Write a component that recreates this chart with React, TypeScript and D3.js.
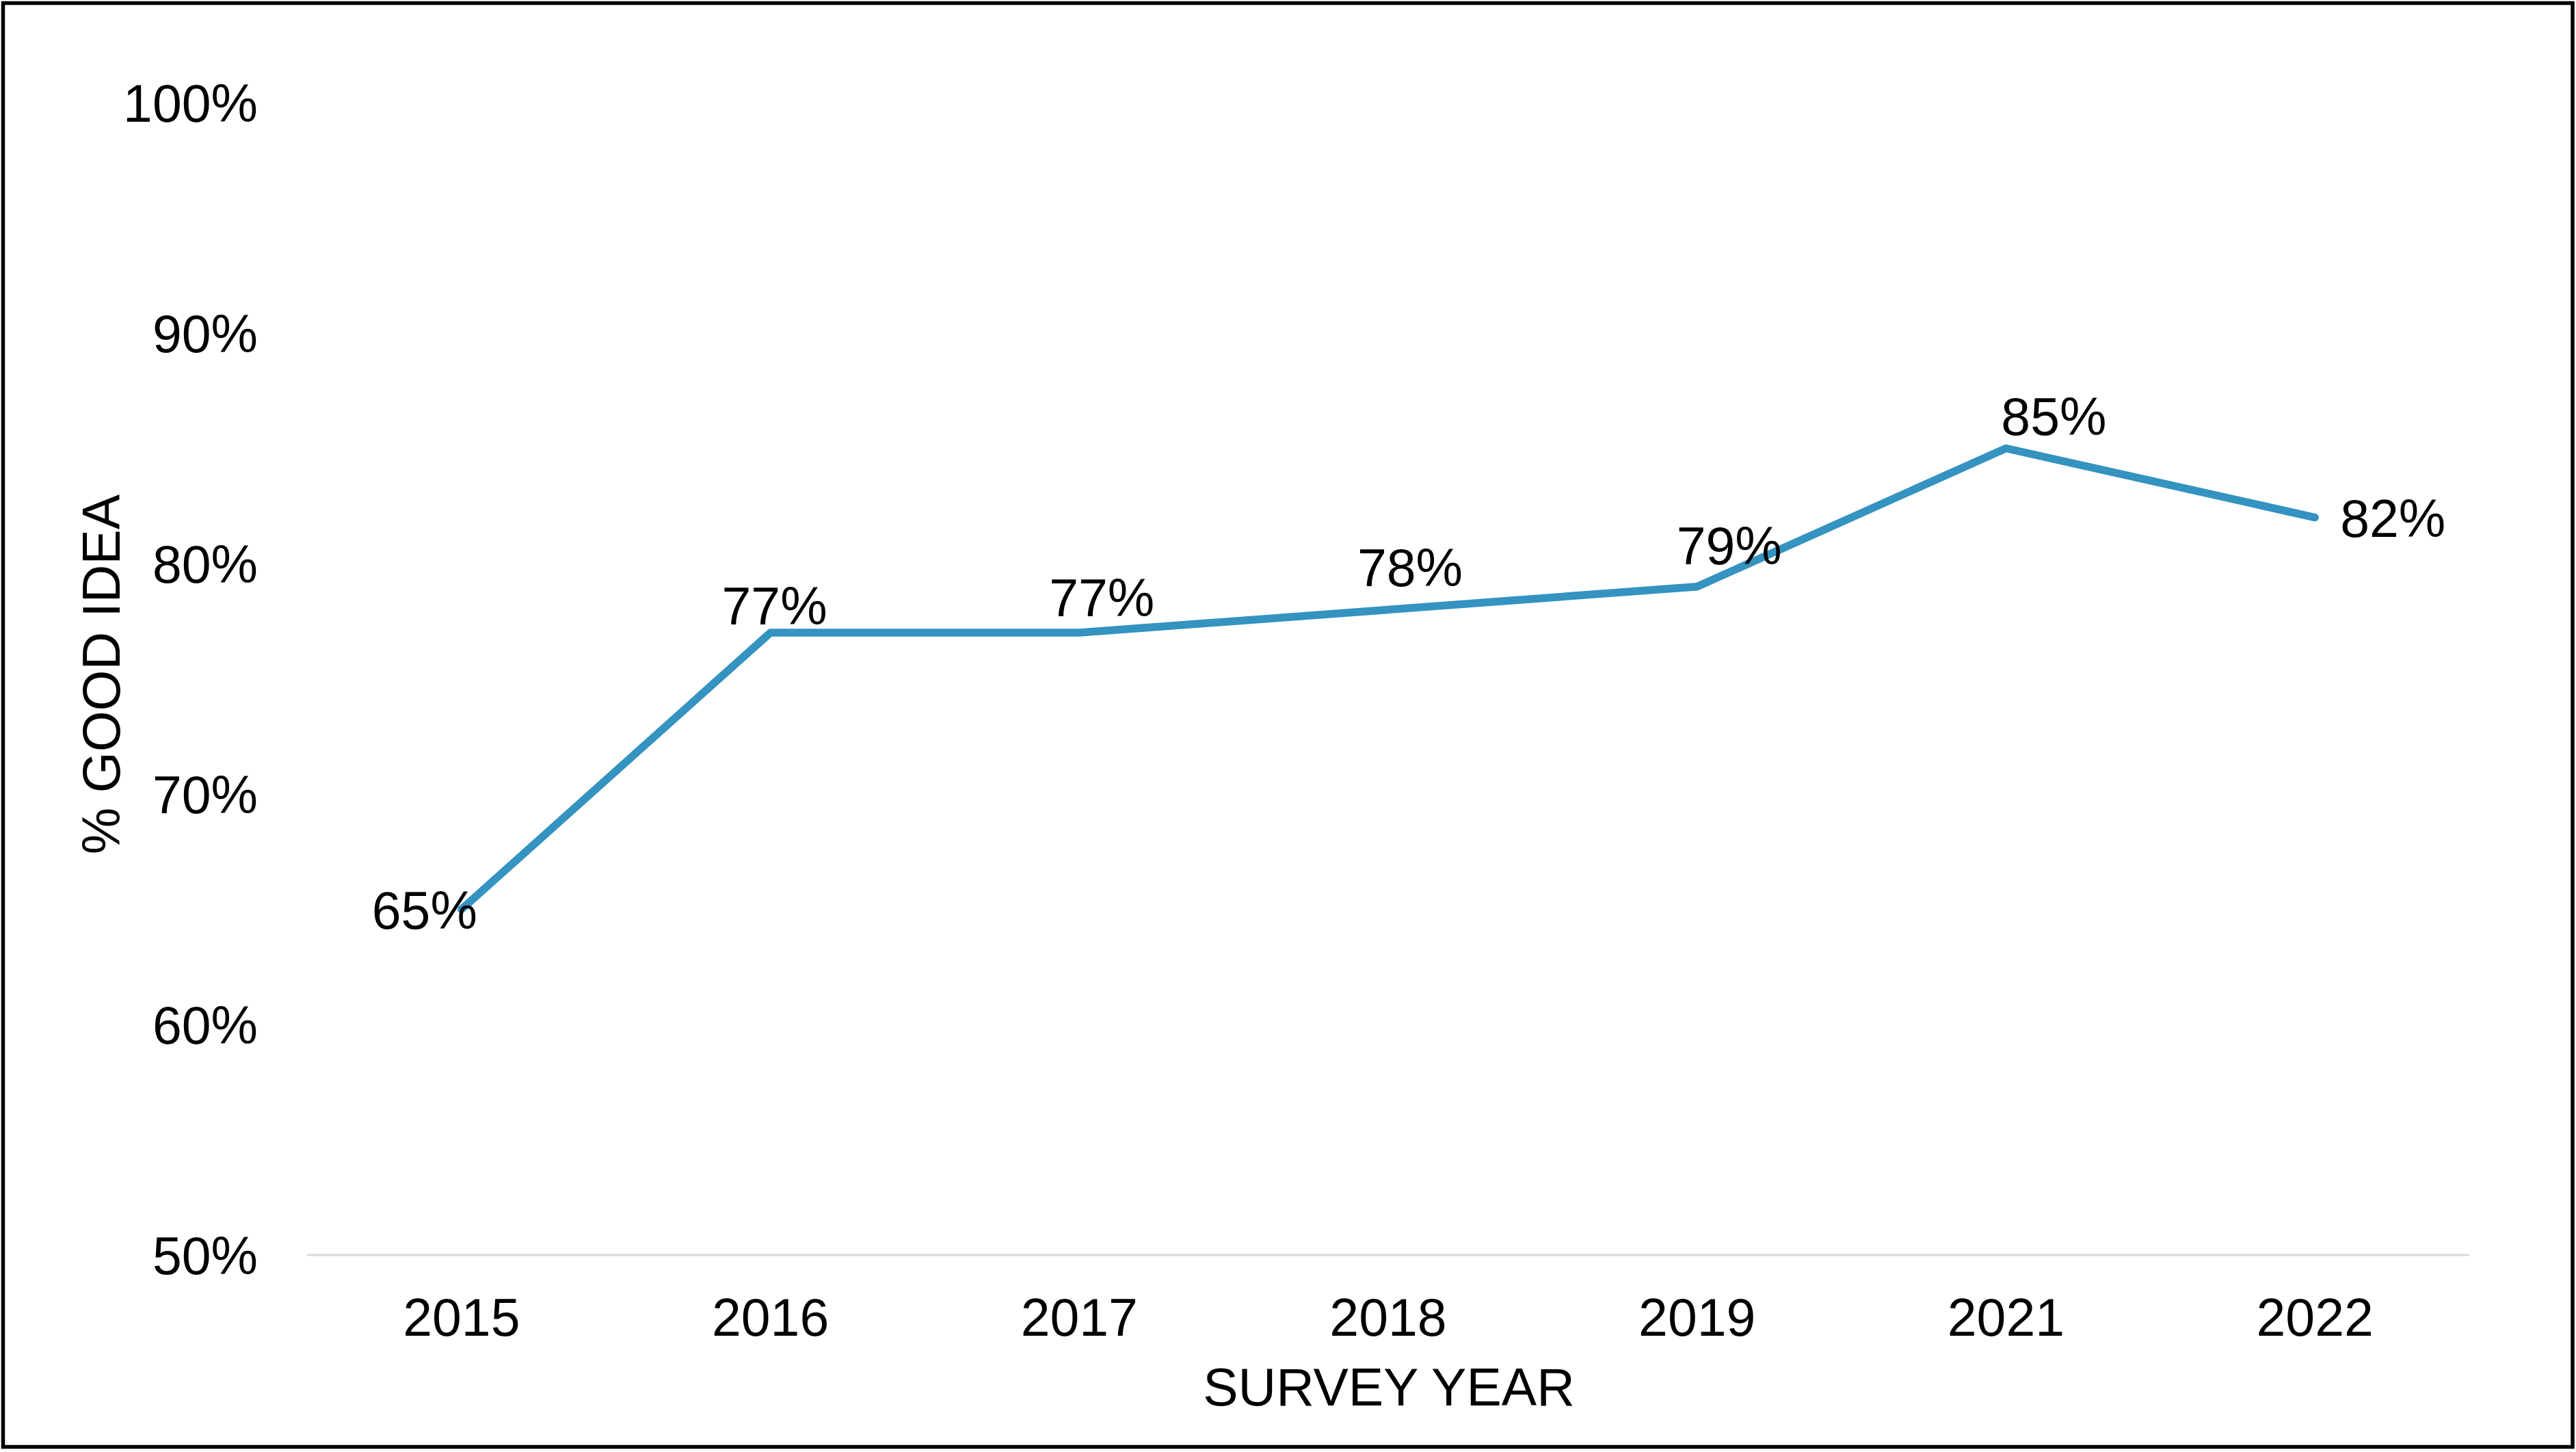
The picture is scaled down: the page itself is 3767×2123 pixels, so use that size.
import React from "react";
import * as d3 from "d3";

const years = ["2015", "2016", "2017", "2018", "2019", "2021", "2022"];
const goodIdea = [65, 77, 77, 78, 79, 85, 82];
const yTicks = [50, 60, 70, 80, 90, 100];
// label placement per point: side and small manual nudges (dx, dy) like the dragged labels in the source
const labelSide = ["left", "above", "above", "above", "above", "above", "right"];
const labelNudge = [
  [-54, 0],
  [6, -12],
  [33, -24],
  [32, -34],
  [47, -33],
  [70, -20],
  [37, 0],
];

const W = 3767;
const H = 2123;
const FONT = "'Liberation Sans', Arial, Helvetica, sans-serif";
const FS = 77;

export default function App() {
  const x = d3.scaleBand<string>().domain(years).range([449, 3611]);
  const y = d3.scaleLinear().domain([50, 100]).range([1835, 150]);
  const cx = (d: string) => (x(d) as number) + x.bandwidth() / 2;

  const line = d3
    .line<number>()
    .x((_, i) => cx(years[i]))
    .y((v) => y(v));

  return (
    <svg
      width={W}
      height={H}
      style={{ position: "fixed", left: 0, top: 0, display: "block", background: "#fff" }}
      fontFamily={FONT}
    >
      <rect x={0} y={0} width={W} height={H} fill="#fff" />
      <rect x={4.5} y={4.5} width={3757.5} height={2111} fill="none" stroke="#000" strokeWidth={5.5} />

      {/* baseline */}
      <line x1={449} x2={3611} y1={y(50)} y2={y(50)} stroke="#d9d9d9" strokeWidth={3} />

      {/* y tick labels */}
      {yTicks.map((t) => (
        <text key={t} x={377} y={y(t) + 28} fontSize={FS} textAnchor="end" fill="#000">
          {d3.format("d")(t) + "%"}
        </text>
      ))}

      {/* x tick labels */}
      {years.map((yr) => (
        <text key={yr} x={cx(yr)} y={1953} fontSize={FS} textAnchor="middle" fill="#000">
          {yr}
        </text>
      ))}

      {/* axis titles */}
      <text
        transform={`translate(175, 986) rotate(-90)`}
        fontSize={FS}
        textAnchor="middle"
        fill="#000"
      >
        % GOOD IDEA
      </text>
      <text x={2031} y={2055} fontSize={FS} textAnchor="middle" fill="#000">
        SURVEY YEAR
      </text>

      {/* line */}
      <path
        d={line(goodIdea) || ""}
        fill="none"
        stroke="#3493c0"
        strokeWidth={11.5}
        strokeLinejoin="round"
        strokeLinecap="round"
      />

      {/* data labels */}
      {goodIdea.map((v, i) => {
        const px = cx(years[i]);
        const py = y(v);
        const [dx, dy] = labelNudge[i];
        const side = labelSide[i];
        const anchor = side === "right" ? "start" : "middle";
        const baseY = side === "above" ? py + dy : py + 28 + dy;
        return (
          <text key={i} x={px + dx} y={baseY} fontSize={FS} textAnchor={anchor} fill="#000">
            {v + "%"}
          </text>
        );
      })}
    </svg>
  );
}
